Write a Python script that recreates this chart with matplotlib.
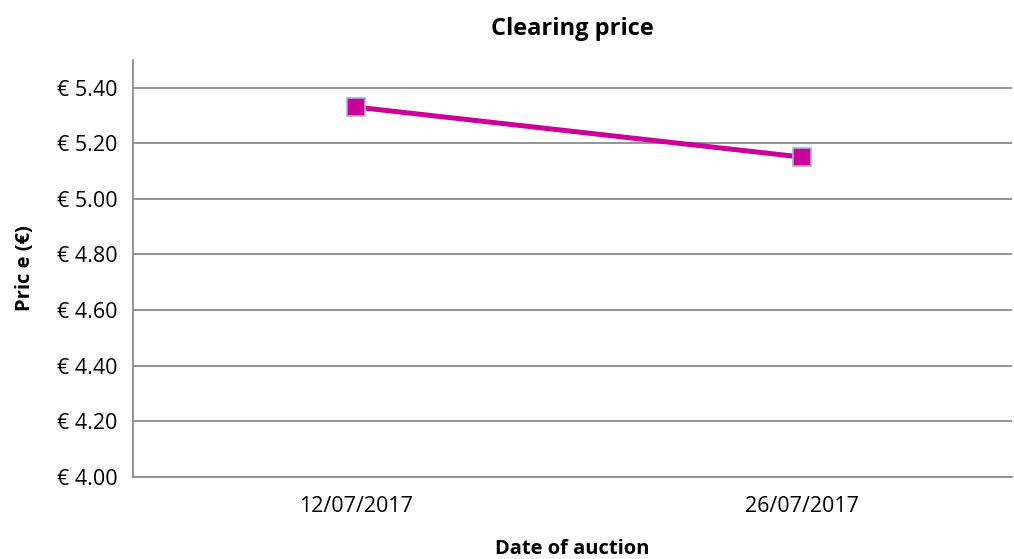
import matplotlib
matplotlib.use("Agg")
from matplotlib import pyplot as plt

# data
dates = ["12/07/2017", "26/07/2017"]
prices = [5.33, 5.15]
yticks = [4.0, 4.2, 4.4, 4.6, 4.8, 5.0, 5.2, 5.4]

plt.rcParams["font.family"] = ["Open Sans", "DejaVu Sans"]

fig = plt.figure(figsize=(10.14, 5.59), dpi=100)
ax = fig.add_axes([0.131, 0.147, 0.867, 0.746])

xs = list(range(len(dates)))
ax.plot(xs, prices, color="#CC0099", lw=3.6, marker="s", markersize=13,
        markerfacecolor="#CC0099", markeredgecolor="#9DB8D9", markeredgewidth=1.2,
        zorder=3)

ax.set_xlim(-0.5, len(dates) - 0.53)
ax.set_ylim(4.0, 5.5)
ax.set_yticks(yticks)
ax.set_yticklabels([f"€ {v:.2f}" for v in yticks], fontsize=15.5)
ax.set_xticks(xs)
ax.set_xticklabels(dates, fontsize=15.5)
ax.tick_params(axis="y", length=0, pad=11)
ax.tick_params(axis="x", length=0, pad=14)

ax.grid(axis="y", color="#8c8c8c", lw=1.3)
ax.set_axisbelow(True)
for s in ["top", "right"]:
    ax.spines[s].set_visible(False)
for s in ["left", "bottom"]:
    ax.spines[s].set_color("#8c8c8c")
    ax.spines[s].set_linewidth(1.3)

ax.set_title("Clearing price", fontsize=17, fontweight="bold", pad=18)
ax.set_xlabel("Date of auction", fontsize=14.5, fontweight="bold", labelpad=16)
ax.set_ylabel("Pric e (€)", fontsize=14.5, fontweight="bold", labelpad=16)

plt.savefig("out.png", dpi=100)
